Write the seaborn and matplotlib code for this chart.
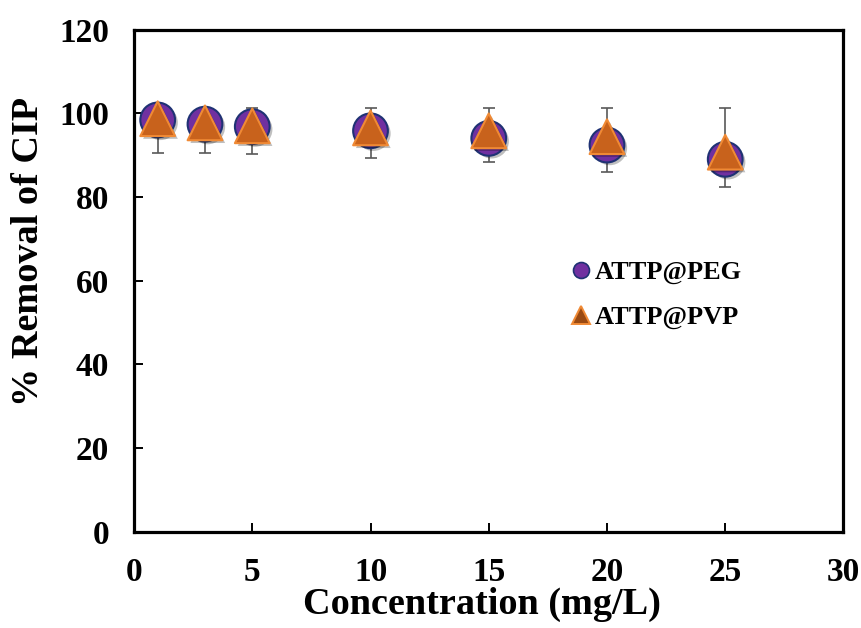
import matplotlib
matplotlib.use("Agg")
import matplotlib.pyplot as plt
import matplotlib.patheffects as pe
from matplotlib.lines import Line2D
import numpy as np
import pandas as pd
import seaborn as sns

# Removal efficiency of CIP versus initial concentration
concentration = [1, 3, 5, 10, 15, 20, 25]
removal_peg = [98.4, 97.4, 96.8, 95.8, 94.0, 92.4, 89.0]
removal_pvp = [98.7, 97.7, 97.0, 96.5, 95.8, 94.4, 90.7]
peg_err_minus = [8.0, 7.0, 6.6, 6.6, 5.7, 6.5, 6.5]
pvp_err_plus = [0.8, 1.0, 4.2, 4.7, 5.4, 6.8, 10.5]

series_names = ["ATTP@PEG", "ATTP@PVP"]
x_ticks = [0, 5, 10, 15, 20, 25, 30]
y_ticks = [0, 20, 40, 60, 80, 100, 120]

df = pd.DataFrame({
    "conc": concentration * 2,
    "removal": removal_peg + removal_pvp,
    "series": [series_names[0]] * len(concentration) + [series_names[1]] * len(concentration),
})

sns.set_theme(style="white")
plt.rcParams["font.family"] = ["Liberation Serif", "DejaVu Serif"]
plt.rcParams["font.weight"] = "bold"
plt.rcParams["text.color"] = "black"
plt.rcParams["axes.labelcolor"] = "black"

fig = plt.figure(figsize=(8.62, 6.28), dpi=100)
ax = fig.add_axes([0.1555, 0.153, 0.823, 0.800])

err_kw = dict(fmt="none", ecolor="#595959", elinewidth=1.2, capsize=4.3, capthick=1.2, zorder=1)
ax.errorbar(concentration, removal_peg,
            yerr=[peg_err_minus, [0] * len(concentration)], **err_kw)
ax.errorbar(concentration, removal_pvp,
            yerr=[[0] * len(concentration), pvp_err_plus], **err_kw)

peg_color, peg_edge = "#7030A0", "#1F3274"
pvp_color, pvp_edge = "#C8621C", "#F08A35"
shadow = [pe.SimplePatchShadow(offset=(2, -2), shadow_rgbFace="black", alpha=0.25), pe.Normal()]

sns.scatterplot(data=df[df.series == series_names[0]], x="conc", y="removal",
                marker="o", s=25 ** 2, color=peg_color, edgecolor=peg_edge,
                linewidth=1.5, ax=ax, legend=False, zorder=3)
sns.scatterplot(data=df[df.series == series_names[1]], x="conc", y="removal",
                marker="^", s=25 ** 2, color=pvp_color, edgecolor=pvp_edge,
                linewidth=1.5, ax=ax, legend=False, zorder=4)
for coll in ax.collections[-2:]:
    coll.set_path_effects(shadow)

ax.set_xlim(0, 30)
ax.set_ylim(0, 120)
ax.set_xticks(x_ticks)
ax.set_yticks(y_ticks)
ax.set_xticklabels([str(t) for t in x_ticks])
ax.set_yticklabels([str(t) for t in y_ticks])

for side in ["left", "right", "top", "bottom"]:
    ax.spines[side].set_visible(True)
    ax.spines[side].set_color("black")
    ax.spines[side].set_linewidth(2.3)
ax.tick_params(axis="both", direction="in", length=6.5, width=1.4, colors="black",
               labelsize=24, left=True, bottom=True, right=False, top=False)
ax.tick_params(axis="y", pad=18)
ax.tick_params(axis="x", pad=18)
for lab in ax.get_xticklabels() + ax.get_yticklabels():
    lab.set_fontweight("bold")
    lab.set_color("black")

ax.set_xlabel("Concentration (mg/L)", fontsize=27.5, fontweight="bold", color="black")
ax.set_ylabel("% Removal of CIP", fontsize=27.5, fontweight="bold", color="black")
ax.xaxis.set_label_coords(0.49, -0.11)
ax.yaxis.set_label_coords(-0.124, 0.558)

handles = [
    Line2D([], [], linestyle="none", marker="o", markersize=11.5,
           markerfacecolor=peg_color, markeredgecolor=peg_edge, markeredgewidth=1.2),
    Line2D([], [], linestyle="none", marker="^", markersize=12.5,
           markerfacecolor="#9A4A12", markeredgecolor=pvp_edge, markeredgewidth=1.4),
]
leg = ax.legend(handles, series_names, loc="center left", bbox_to_anchor=(0.611, 0.472),
                frameon=False, handlelength=1.0, handletextpad=0.05, borderpad=0,
                borderaxespad=0, labelspacing=0.8,
                prop={"family": "Liberation Serif", "weight": "bold", "size": 19})
for t in leg.get_texts():
    t.set_color("black")

fig.savefig("out.png", dpi=100, facecolor="white")
